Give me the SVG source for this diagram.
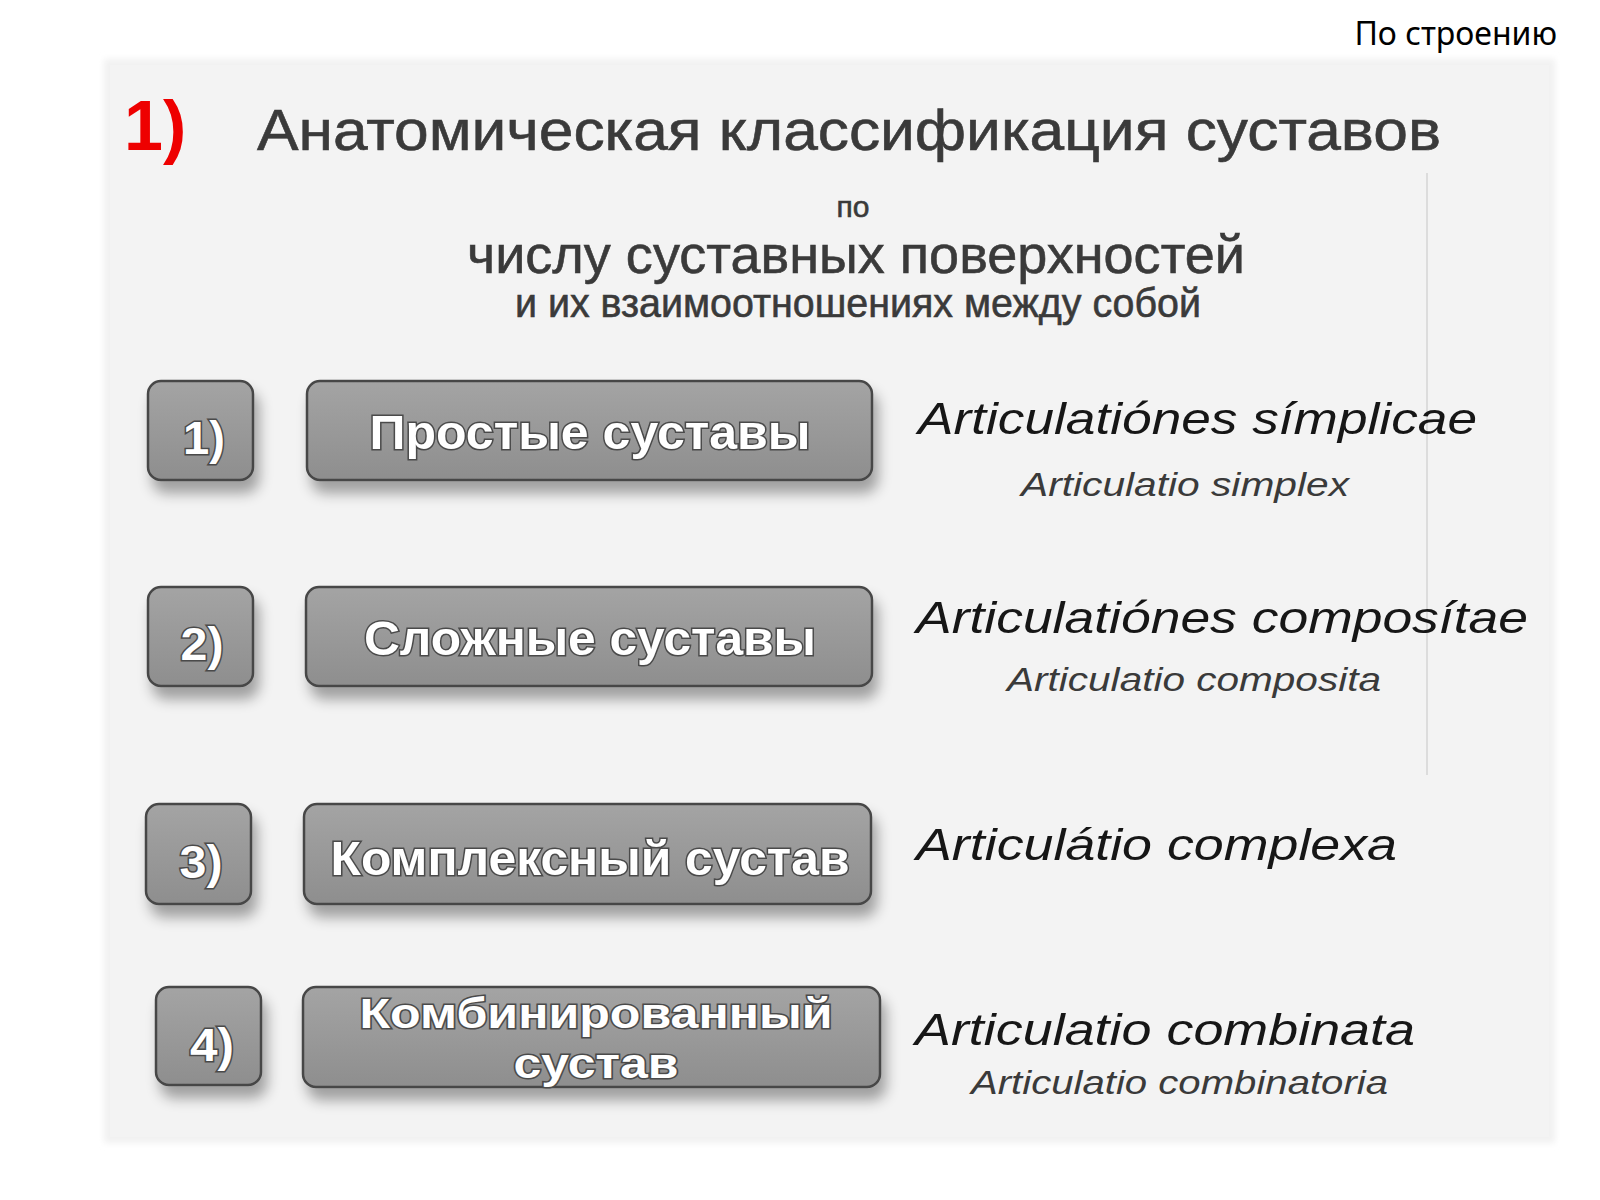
<svg xmlns="http://www.w3.org/2000/svg" width="1600" height="1200" viewBox="0 0 1600 1200">
<defs>
  <linearGradient id="boxg" x1="0" y1="0" x2="0" y2="1">
    <stop offset="0" stop-color="#a4a4a4"/>
    <stop offset="1" stop-color="#8e8e8e"/>
  </linearGradient>
  <filter id="shadow" x="-20%" y="-30%" width="140%" height="170%">
    <feGaussianBlur in="SourceAlpha" stdDeviation="7"/>
    <feOffset dx="5" dy="12" result="b"/>
    <feComponentTransfer><feFuncA type="linear" slope="0.35"/></feComponentTransfer>
    <feMerge><feMergeNode/><feMergeNode in="SourceGraphic"/></feMerge>
  </filter>
  <filter id="soft" x="-5%" y="-5%" width="110%" height="110%">
    <feGaussianBlur stdDeviation="3"/>
  </filter>
</defs>
<style>
  .box { fill: url(#boxg); stroke: #474747; stroke-width: 2.5; }
  .lbl { font-family: "Liberation Sans", Arial, sans-serif; font-weight: bold; fill: #ffffff; stroke: #4a4a4a; stroke-width: 3; paint-order: stroke; text-anchor: middle; }
  .lat { font-family: "Liberation Sans", Arial, sans-serif; font-style: italic; fill: #161616; }
  .lat2 { font-family: "Liberation Sans", Arial, sans-serif; font-style: italic; fill: #3a3a3a; }
  .ru { font-family: "Liberation Sans", Arial, sans-serif; fill: #3a3a3a; stroke: #3a3a3a; stroke-width: 0.6; }
</style>
<rect x="0" y="0" width="1600" height="1200" fill="#ffffff"/>
<rect x="104" y="59" width="1451" height="1084" fill="#f1f1f1" filter="url(#soft)"/>
<rect x="110" y="65" width="1439" height="1072" fill="#f3f3f3"/>
<line x1="1427" y1="173" x2="1427" y2="775" stroke="#dcdcdc" stroke-width="2"/>

<text x="1557" y="45" font-family="'Noto Sans', 'Open Sans', sans-serif" font-size="32" fill="#000" text-anchor="end">По строению</text>

<g id="heading">
  <text x="124" y="150" font-family="'Liberation Sans', Arial, sans-serif" font-size="70" font-weight="bold" fill="#ee0000">1)</text>
  <text class="ru" x="257" y="150" font-size="58" textLength="1184" lengthAdjust="spacingAndGlyphs">Анатомическая классификация суставов</text>
  <text class="ru" x="853" y="217" font-size="30" text-anchor="middle">по</text>
  <text class="ru" x="467" y="273" font-size="54" textLength="778" lengthAdjust="spacingAndGlyphs">числу суставных поверхностей</text>
  <text class="ru" x="515" y="317" font-size="40" textLength="686" lengthAdjust="spacingAndGlyphs" stroke-width="1">и их взаимоотношениях между собой</text>
</g>

<g id="connectors"></g>

<g id="row1">
  <rect class="box" x="148" y="381" width="105" height="99" rx="13" filter="url(#shadow)"/>
  <text class="lbl" x="204" y="454" font-size="46" textLength="42" lengthAdjust="spacingAndGlyphs">1)</text>
  <rect class="box" x="307" y="381" width="565" height="99" rx="13" filter="url(#shadow)"/>
  <text class="lbl" x="590" y="449" font-size="49" textLength="441" lengthAdjust="spacingAndGlyphs">Простые суставы</text>
  <text class="lat" x="918" y="434" font-size="44" textLength="559" lengthAdjust="spacingAndGlyphs">Articulatiónes símplicae</text>
  <text class="lat2" x="1021" y="496" font-size="34" textLength="328" lengthAdjust="spacingAndGlyphs">Articulatio simplex</text>
</g>

<g id="row2">
  <rect class="box" x="148" y="587" width="105" height="99" rx="13" filter="url(#shadow)"/>
  <text class="lbl" x="202" y="660" font-size="46" textLength="43" lengthAdjust="spacingAndGlyphs">2)</text>
  <rect class="box" x="306" y="587" width="566" height="99" rx="13" filter="url(#shadow)"/>
  <text class="lbl" x="590" y="655" font-size="49" textLength="452" lengthAdjust="spacingAndGlyphs">Сложные суставы</text>
  <text class="lat" x="916" y="633" font-size="44" textLength="612" lengthAdjust="spacingAndGlyphs">Articulatiónes composítae</text>
  <text class="lat2" x="1007" y="691" font-size="34" textLength="374" lengthAdjust="spacingAndGlyphs">Articulatio composita</text>
</g>

<g id="row3">
  <rect class="box" x="146" y="804" width="105" height="100" rx="13" filter="url(#shadow)"/>
  <text class="lbl" x="201" y="878" font-size="46" textLength="43" lengthAdjust="spacingAndGlyphs">3)</text>
  <rect class="box" x="304" y="804" width="567" height="100" rx="13" filter="url(#shadow)"/>
  <text class="lbl" x="590" y="875" font-size="49" textLength="519" lengthAdjust="spacingAndGlyphs">Комплексный сустав</text>
  <text class="lat" x="916" y="860" font-size="44" textLength="481" lengthAdjust="spacingAndGlyphs">Articulátio complexa</text>
</g>

<g id="row4">
  <rect class="box" x="156" y="987" width="105" height="98" rx="13" filter="url(#shadow)"/>
  <text class="lbl" x="212" y="1061" font-size="46" textLength="44" lengthAdjust="spacingAndGlyphs">4)</text>
  <rect class="box" x="303" y="987" width="577" height="100" rx="13" filter="url(#shadow)"/>
  <text class="lbl" x="596" y="1028" font-size="43" textLength="473" lengthAdjust="spacingAndGlyphs">Комбинированный</text>
  <text class="lbl" x="596" y="1078" font-size="43" textLength="165" lengthAdjust="spacingAndGlyphs">сустав</text>
  <text class="lat" x="915" y="1045" font-size="44" textLength="500" lengthAdjust="spacingAndGlyphs">Articulatio combinata</text>
  <text class="lat2" x="971" y="1094" font-size="34" textLength="417" lengthAdjust="spacingAndGlyphs">Articulatio combinatoria</text>
</g>
</svg>
